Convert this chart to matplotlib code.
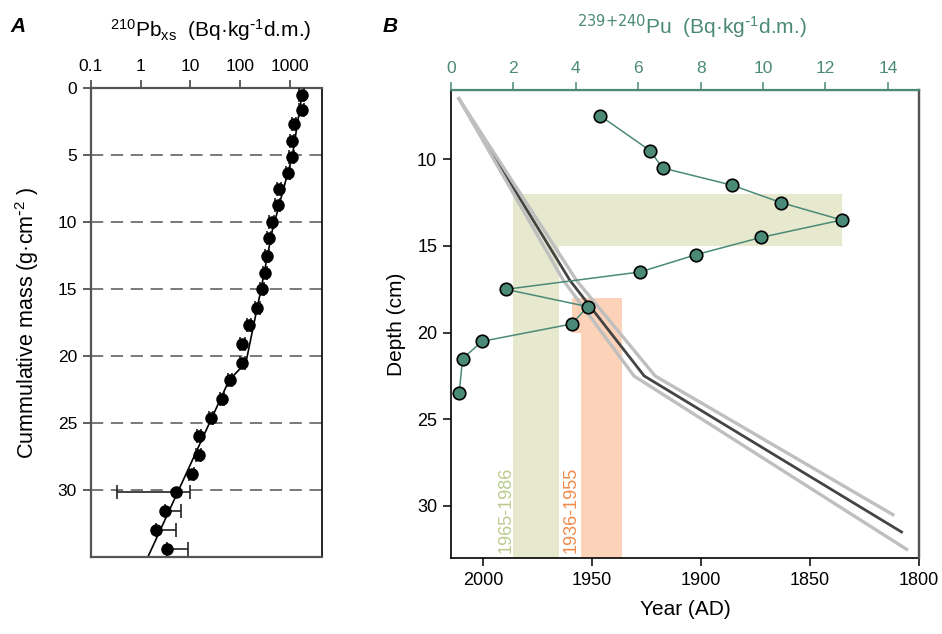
"""210Pb profile (A) and 239+240Pu / age-depth model (B)."""
import numpy as np
import matplotlib.pyplot as plt
from matplotlib.transforms import blended_transform_factory

plt.rcParams['font.family'] = ['Liberation Sans', 'DejaVu Sans']
plt.rcParams['mathtext.default'] = 'regular'

TEAL = '#4b8a77'

# ---- panel A: 210Pb excess vs cumulative mass ----
pb_mass = [0.5, 1.6, 2.7, 3.9, 5.1, 6.3, 7.5, 8.7, 10.0, 11.2, 12.5, 13.8, 15.0,
           16.4, 17.7, 19.1, 20.5, 21.8, 23.2, 24.6, 26.0, 27.4, 28.8, 30.2,
           31.6, 33.0, 34.4]
pb_act = [1715, 1715, 1200, 1110, 1080, 925, 610, 565, 430, 385, 342, 320, 272,
          222, 153, 111, 111, 62, 43, 26, 15.1, 14.5, 10.5, 5.0, 3.1, 2.0, 3.4]
pb_err_lo = [a * 0.1 for a in pb_act[:23]] + [4.66, 0.0, 0.0, 0.0]
pb_err_hi = [a * 0.1 for a in pb_act[:23]] + [4.6, 3.2, 3.06, 5.4]
fit_mass = [0.4, 5.1, 10.6, 15.1, 20.5, 21.8, 35.0]
fit_act = [1760, 1110, 443, 259, 130, 60, 1.4]

# ---- panel B: Pu activity and age-depth model ----
pu_depth = [7.5, 9.5, 10.5, 11.5, 12.5, 13.5, 14.5, 15.5, 16.5, 17.5, 18.5,
            19.5, 20.5, 21.5, 23.5]
pu_act = [4.79, 6.38, 6.78, 9.02, 10.58, 12.52, 9.95, 7.86, 6.06, 1.76, 4.38,
          3.87, 1.00, 0.37, 0.26]
age_depth = [6.5, 17.0, 22.5, 31.5]
age_year = [2011, 1960, 1926, 1808]
age_hi_depth = [6.5, 17.0, 22.5, 30.5]
age_hi_year = [2011, 1957, 1921, 1812]
age_lo_depth = [6.5, 17.0, 22.5, 32.5]
age_lo_year = [2011, 1963, 1930.7, 1805.7]

fig = plt.figure(figsize=(9.42, 6.34), dpi=100)

# ================= A =================
axA = fig.add_axes([0.0966, 0.1219, 0.2452, 0.7388])
axA.set_xscale('log')
axA.set_xlim(0.1, 4400)
axA.set_ylim(35, 0)
for m in [5, 10, 15, 20, 25, 30]:
    axA.axhline(m, color='#555555', lw=1.1, dashes=(8, 5), zorder=1)
axA.plot(fit_act, fit_mass, color='black', lw=1.2, zorder=2)
axA.errorbar(pb_act, pb_mass, xerr=[pb_err_lo, pb_err_hi], fmt='o', color='black',
             ms=8, ecolor='#222222', elinewidth=1.2, capsize=5, capthick=1.2,
             zorder=3)
axA.xaxis.tick_top()
axA.set_xticks([0.1, 1, 10, 100, 1000])
axA.set_xticklabels(['0.1', '1', '10', '100', '1000'])
axA.xaxis.set_minor_locator(plt.NullLocator())
axA.set_yticks([0, 5, 10, 15, 20, 25, 30])
axA.tick_params(labelsize=12.5, length=6, width=1.1, colors='#333333',
                labelcolor='black', pad=4)
for side in ['left', 'bottom', 'top']:
    axA.spines[side].set_color('#555555')
    axA.spines[side].set_linewidth(1.6)
axA.spines['right'].set_color('black')
axA.spines['right'].set_linewidth(1.2)
axA.set_ylabel(r'Cummulative mass (g·cm$^{\text{-}2}$ )', fontsize=15.5,
               labelpad=12)
fig.text(211 / 942, 1 - 30 / 634, r'$^{210}$Pb$_{xs}$  (Bq·kg$^{\text{-}1}$d.m.)',
         ha='center', va='center', fontsize=15)
fig.text(18 / 942, 1 - 27 / 634, 'A', fontsize=15, fontweight='bold',
         fontstyle='italic', ha='center', va='center')

# ================= B =================
axB = fig.add_axes([0.4788, 0.1199, 0.4968, 0.7382])
axB.set_xlim(2014.6, 1800)
axB.set_ylim(33, 6)
axP = axB.twiny()
axP.set_xlim(0, 15)

pu_year = blended_transform_factory(axP.transData, axB.transData)
# dating windows
axB.fill_betweenx([12, 33], 1986, 1965, color='#e6e9cd', lw=0, zorder=0)
axB.add_patch(plt.Rectangle((2.08, 12), 12.52 - 2.08, 3, transform=pu_year,
                            color='#e6e9cd', lw=0, zorder=0))
axB.fill_betweenx([18, 33], 1955, 1936, color='#fcd3b8', lw=0, zorder=0)
axB.add_patch(plt.Rectangle((3.87, 18), 1.0, 2, transform=pu_year,
                            color='#fcd3b8', lw=0, zorder=0))
axB.text(1989.3, 32.7, '1965-1986', rotation=90, color='#bccb8e', fontsize=13,
         ha='center', va='bottom')
axB.text(1959.6, 32.7, '1936-1955', rotation=90, color='#f08a4b', fontsize=13,
         ha='center', va='bottom')

axB.plot(age_year, age_depth, color='#444444', lw=2.0, zorder=2)
axB.plot(age_hi_year, age_hi_depth, color='#bfbfbf', lw=2.4, zorder=3)
axB.plot(age_lo_year, age_lo_depth, color='#bfbfbf', lw=2.4, zorder=3)

axP.plot(pu_act, pu_depth, '-o', color=TEAL, lw=1.1, ms=9, mfc=TEAL,
         mec='black', mew=1.2, zorder=4)

axB.set_xticks([2000, 1950, 1900, 1850, 1800])
axB.set_yticks([10, 15, 20, 25, 30])
axB.tick_params(labelsize=13, length=6, width=1.1, pad=4)
axB.set_xlabel('Year (AD)', fontsize=15, labelpad=8)
axB.set_ylabel('Depth (cm)', fontsize=15, labelpad=8)
axB.spines['right'].set_color('#555555')
axB.spines['right'].set_linewidth(1.6)
axB.spines['left'].set_linewidth(1.2)
axB.spines['bottom'].set_linewidth(1.2)

axP.set_xticks(range(0, 15, 2))
axP.tick_params(axis='x', labelsize=12.5, length=6, width=1.1, colors=TEAL, pad=4)
axP.spines['top'].set_color(TEAL)
axP.spines['top'].set_linewidth(1.6)
axP.spines['right'].set_color('#555555')
axP.spines['right'].set_linewidth(1.6)
for side in ['left', 'bottom']:
    axP.spines[side].set_visible(False)
fig.text(692 / 942, 1 - 27 / 634,
         r'$^{\text{239+240}}$Pu  (Bq·kg$^{\text{-}1}$d.m.)',
         ha='center', va='center', fontsize=15, color=TEAL)
fig.text(390 / 942, 1 - 27 / 634, 'B', fontsize=15, fontweight='bold',
         fontstyle='italic', ha='center', va='center')

fig.savefig('out.png', dpi=100)
